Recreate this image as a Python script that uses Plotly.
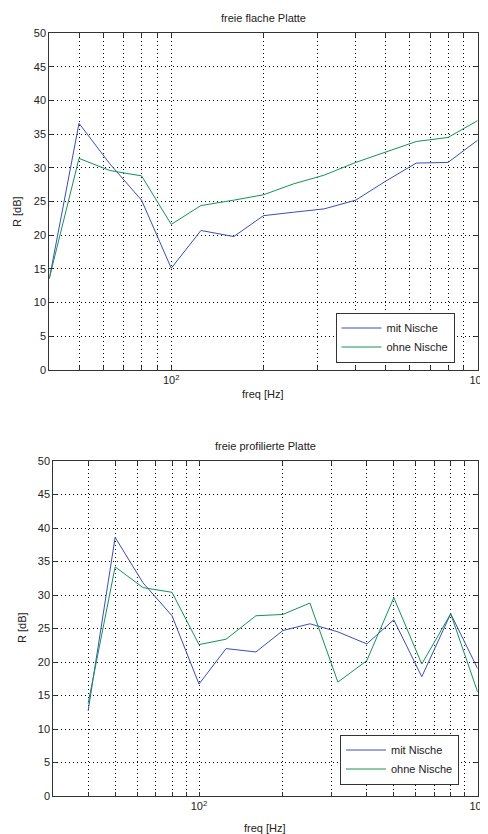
import plotly.graph_objects as go

# ---- data ----
freq_top = [40, 50, 63, 80, 100, 125, 160, 200, 250, 315, 400, 500, 630, 800, 1000]
mit_top = [13.5, 36.6, 30.6, 25.2, 15.1, 20.7, 19.8, 22.9, 23.4, 23.9, 25.2, 28.0, 30.7, 30.8, 34.1]
ohne_top = [13.6, 31.4, 29.6, 28.8, 21.6, 24.4, 25.2, 26.0, 27.6, 28.9, 30.8, 32.3, 33.9, 34.5, 37.0]

freq_bot = [40, 50, 63, 80, 100, 125, 160, 200, 250, 315, 400, 500, 630, 800, 1000]
mit_bot = [12.7, 38.6, 31.8, 26.9, 16.7, 22.0, 21.5, 24.7, 25.7, 24.5, 22.7, 26.3, 17.8, 27.2, 19.0]
ohne_bot = [13.8, 34.2, 31.1, 30.4, 22.6, 23.4, 26.9, 27.1, 28.8, 17.0, 20.2, 29.6, 19.7, 27.2, 15.5]

series_names = ["mit Nische", "ohne Nische"]
titles = ["freie flache Platte", "freie profilierte Platte"]
y_ticks = [0, 5, 10, 15, 20, 25, 30, 35, 40, 45, 50]
x_grid_top = [40, 50, 60, 70, 80, 90, 100, 200, 300, 400, 500, 600, 700, 800, 900, 1000]
x_grid_bot = [30, 40, 50, 60, 70, 80, 90, 100, 200, 300, 400, 500, 600, 700, 800, 900, 1000]

BLUE = "#3a4fb5"
GREEN = "#17905a"
FONT = "Liberation Sans, Arial, sans-serif"
OFF = 8                     # default page body margin
W, H = 488 - OFF, 834 - OFF


def fx(px):
    return (px - OFF) / W


def fy(py):
    return 1 - (py - OFF) / H


fig = go.Figure()

fig.add_trace(go.Scatter(x=freq_top, y=mit_top, name=series_names[0], mode="lines",
                         line=dict(color=BLUE, width=1), xaxis="x", yaxis="y", legend="legend"))
fig.add_trace(go.Scatter(x=freq_top, y=ohne_top, name=series_names[1], mode="lines",
                         line=dict(color=GREEN, width=1), xaxis="x", yaxis="y", legend="legend"))
fig.add_trace(go.Scatter(x=freq_bot, y=mit_bot, name=series_names[0], mode="lines",
                         line=dict(color=BLUE, width=1), xaxis="x2", yaxis="y2", legend="legend2"))
fig.add_trace(go.Scatter(x=freq_bot, y=ohne_bot, name=series_names[1], mode="lines",
                         line=dict(color=GREEN, width=1), xaxis="x2", yaxis="y2", legend="legend2"))


def xlabels(vals):
    out = []
    for v in vals:
        if v == 100:
            out.append("10<sup>2</sup>")
        elif v == 1000:
            out.append("10<sup>3</sup>")
        else:
            out.append("")
    return out


common_axis = dict(showline=True, linecolor="#333333", linewidth=1, mirror="ticks",
                   ticks="inside", ticklen=4, tickcolor="#333333",
                   showgrid=True, gridcolor="#000000", gridwidth=1, griddash="1px,3px",
                   zeroline=False, tickfont=dict(family=FONT, size=11, color="#222222"))

legend_common = dict(xanchor="left", yanchor="top", bgcolor="white",
                     bordercolor="#333333", borderwidth=1, itemwidth=40,
                     font=dict(family=FONT, size=11, color="#222222"), tracegroupgap=0)

fig.update_layout(
    width=W, height=H,
    margin=dict(l=0, r=0, t=0, b=0, autoexpand=False),
    paper_bgcolor="white", plot_bgcolor="white",
    font=dict(family=FONT, size=11, color="#222222"),
    xaxis=dict(type="log", range=[1.60206, 3], domain=[fx(49.3), fx(477.7)], anchor="y",
               tickmode="array", tickvals=x_grid_top, ticktext=xlabels(x_grid_top), **common_axis),
    yaxis=dict(range=[0, 50], domain=[fy(370), fy(33)], anchor="x",
               tickmode="array", tickvals=y_ticks, **common_axis),
    xaxis2=dict(type="log", range=[1.47712, 3], domain=[fx(53.3), fx(477.7)], anchor="y2",
                tickmode="array", tickvals=x_grid_bot, ticktext=xlabels(x_grid_bot), **common_axis),
    yaxis2=dict(range=[0, 50], domain=[fy(796), fy(461)], anchor="x2",
                tickmode="array", tickvals=y_ticks, **common_axis),
    legend=dict(x=fx(335.5), y=fy(312.5), **legend_common),
    legend2=dict(x=fx(340), y=fy(734.5), **legend_common),
    showlegend=True,
)

ann = [
    dict(text=titles[0], x=fx(263), y=fy(18)),
    dict(text=titles[1], x=fx(265), y=fy(446)),
    dict(text="freq [Hz]", x=fx(263), y=fy(394)),
    dict(text="freq [Hz]", x=fx(265), y=fy(828)),
    dict(text="R [dB]", x=fx(17), y=fy(212), textangle=-90),
    dict(text="R [dB]", x=fx(22), y=fy(628), textangle=-90),
]
for a in ann:
    fig.add_annotation(xref="paper", yref="paper", showarrow=False,
                       xanchor="center", yanchor="middle",
                       font=dict(family=FONT, size=11, color="#222222"), **a)

fig.write_html("out.html")
